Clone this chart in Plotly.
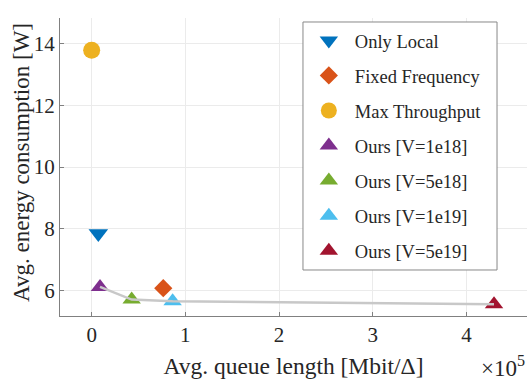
import plotly.graph_objects as go

# Data (x in units of 1e5 Mbit/Δ, y in W)
names = ["Only Local", "Fixed Frequency", "Max Throughput",
         "Ours [V=1e18]", "Ours [V=5e18]", "Ours [V=1e19]", "Ours [V=5e19]"]
queue_len = [0.071, 0.764, 0.0, 0.089, 0.427, 0.864, 4.294]
energy = [7.85, 6.08, 13.78, 6.12, 5.71, 5.66, 5.56]
ours_idx = [3, 4, 5, 6]

x_ticks = [0, 1, 2, 3, 4]
y_ticks = [6, 8, 10, 12, 14]

x_title = "Avg. queue length [Mbit/Δ]"
y_title = "Avg. energy consumption [W]"
x_exponent = "×10<sup>5</sup>"

colors = ["#0072BD", "#D95319", "#EDB120", "#7E2F8E", "#77AC30", "#4DBEEE", "#A2142F"]
symbols = ["triangle-down", "diamond", "circle", "triangle-up", "triangle-up", "triangle-up", "triangle-up"]
sizes = [17, 14, 17, 16, 16, 16, 16]

FONT = "Liberation Serif"
TXT = "#262626"

fig = go.Figure()
for i, n in enumerate(names):
    fig.add_trace(go.Scatter(
        x=[queue_len[i]], y=[energy[i]], mode="markers", name=n,
        legendgroup=n,
        marker=dict(symbol=symbols[i], size=sizes[i], color=colors[i], line=dict(width=0)),
    ))

fig.add_trace(go.Scatter(
    x=[queue_len[i] for i in ours_idx], y=[energy[i] for i in ours_idx],
    mode="lines", line=dict(color="#C8C8C8", width=2.5), showlegend=False,
))

axis_common = dict(
    showgrid=True, gridcolor="#EBEBEB", gridwidth=1,
    showline=True, linecolor="#808080", linewidth=1,
    ticks="inside", ticklen=4, tickcolor="#808080",
    zeroline=False, mirror=False, automargin=False,
    tickfont=dict(family=FONT, size=21, color=TXT),
)

fig.update_layout(
    width=529, height=379,
    margin=dict(l=60, r=2, t=18, b=63),
    paper_bgcolor="white", plot_bgcolor="white",
    font=dict(family=FONT, color=TXT),
    xaxis=dict(range=[-0.338, 4.646], tickvals=x_ticks, ticktext=[str(v) for v in x_ticks],
               title=dict(text=x_title, font=dict(family=FONT, size=23.5, color=TXT), standoff=12),
               **axis_common),
    yaxis=dict(range=[5.18, 14.82], tickvals=y_ticks, ticktext=[str(v) for v in y_ticks],
               **axis_common),
    legend=dict(
        x=0.520, y=0.987, xanchor="left", yanchor="top",
        bgcolor="rgba(0,0,0,0)", borderwidth=0,
        font=dict(family=FONT, size=18.5, color=TXT),
        tracegroupgap=8, itemwidth=42,
    ),
    showlegend=True,
    shapes=[dict(
        type="rect", xref="paper", yref="paper",
        x0=0.5203, x1=0.9358, y0=0.1544, y1=0.9866,
        fillcolor="white", line=dict(color="#888888", width=1), layer="above",
    )],
    annotations=[
        dict(text=x_exponent, xref="paper", yref="paper", x=0.998, y=-0.170,
             xanchor="right", yanchor="middle", showarrow=False, borderpad=0,
             font=dict(family=FONT, size=23, color=TXT)),
        dict(text=y_title, xref="paper", yref="paper", x=-0.0814, y=0.517,
             xanchor="center", yanchor="middle", textangle=-90, showarrow=False,
             font=dict(family=FONT, size=23, color=TXT)),
    ],
)

fig.write_html("out.html", config={"displayModeBar": False},
               post_script="document.body.style.margin='0px';")
